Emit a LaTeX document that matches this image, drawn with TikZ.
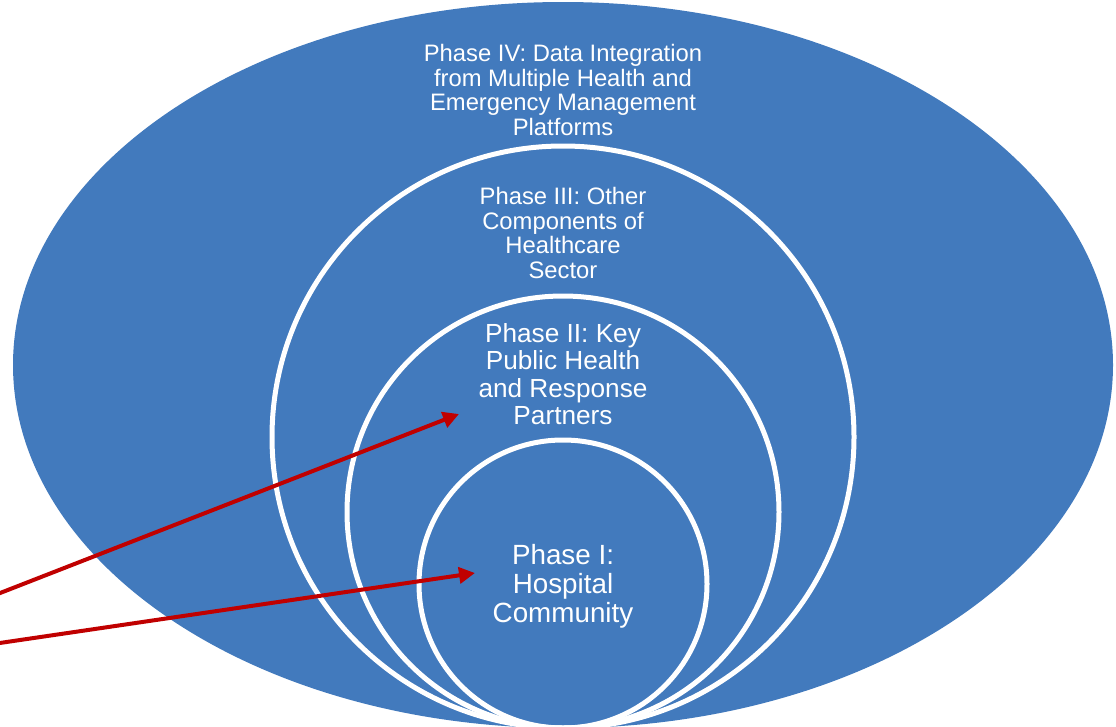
\documentclass[tikz,border=0pt]{standalone}
\usepackage{fontspec}
\setmainfont{Liberation Sans}
\usetikzlibrary{arrows.meta}
\definecolor{phaseblue}{RGB}{66,122,189}
\definecolor{arrowred}{RGB}{192,0,0}
\tikzset{
  ring/.style={draw=white, line width=5pt},
  phasetext/.style={text=white, align=center, inner sep=0pt},
  pointer/.style={draw=arrowred, line width=4pt, -{Triangle[length=16pt,width=16pt]}}
}
\begin{document}
\begin{tikzpicture}[x=1pt,y=-1pt]
\useasboundingbox (0,0) rectangle (1116,726);
\begin{scope}
\clip (0,0) rectangle (1116,726);
\fill[phaseblue] (563,365) ellipse [x radius=550pt, y radius=363pt];
\draw[ring] (563,437) circle [radius=291pt];
\draw[ring] (563,512) circle [radius=216pt];
\draw[ring] (563,584) circle [radius=144pt];
\node[phasetext, font=\fontsize{23.8}{24.5}\selectfont] (p4) at (563,90)
  {Phase IV: Data Integration\\from Multiple Health and\\Emergency Management\\Platforms};
\node[phasetext, font=\fontsize{23.8}{24.5}\selectfont] (p3) at (563,233)
  {Phase III: Other\\Components of\\Healthcare\\Sector};
\node[phasetext, font=\fontsize{26.2}{27.3}\selectfont] (p2) at (563,374)
  {Phase II: Key\\Public Health\\and Response\\Partners};
\node[phasetext, font=\fontsize{27.8}{29}\selectfont] (p1) at (563,586)
  {Phase I:\\Hospital\\Community};
\coordinate (s1) at (-5,595);
\coordinate (t1) at (459,414);
\coordinate (s2) at (-5,643.7);
\coordinate (t2) at (475,573);
\draw[pointer] (s1) -- (t1);
\draw[pointer] (s2) -- (t2);
\end{scope}
\end{tikzpicture}
\end{document}
